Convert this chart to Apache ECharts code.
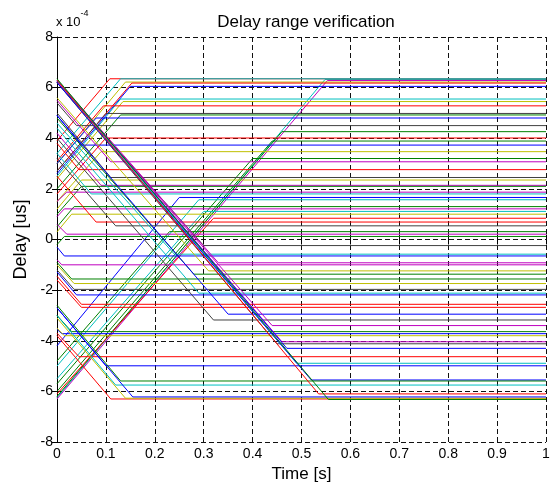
<!DOCTYPE html>
<html>
<head>
<meta charset="utf-8">
<script src="https://cdn.jsdelivr.net/npm/echarts@6/dist/echarts.min.js"></script>
<style>
html,body{margin:0;padding:0;background:#fff;}
#chart{width:554px;height:489px;}
</style>
</head>
<body>
<div id="chart"></div>
<script>
// Delay values in units of 1e-4 us
const startDelay = [
  -6.25, -6.30, 3.0, 3.9, 3.4, 2.7, 2.6, 2.5, 2.4, 3.1,
  2.7, 2.0, 3.0, 5.4, -6.2, 1.8, -6.0, 4.9, 1.5, -5.7,
  5.5, 3.8, 5.0, 1.2, 4.2, 1.0, 1.5, 3.4, -4.2, -5.0,
  0.5, 0.9, -5.5, 0.3, -6.1, 2.5, 3.2, -4.8, 0.6, -0.2,
  6.2, 4.6, -0.3, 6.3, -0.8, 5.6, 4.8, -0.9, -1.0, -1.2,
  4.4, -1.28, -1.45, -1.6, 4.9, 4.0, 6.25, -3.0, -3.55, -3.5,
  6.3, 6.2, 6.3, -3.7, 6.3, -2.7, 6.2, -2.6, -3.0, 6.3,
  -3.8, -3.1, -2.7, 6.35
];
const finalDelay = [
  6.32, 6.28, 6.22, 6.35, 6.35, 6.18, 6.05, 5.55, 5.45, 5.28,
  4.98, 4.92, 4.80, 4.50, 4.26, 4.01, 3.89, 3.73, 3.47, 3.20,
  3.07, 2.76, 2.45, 2.35, 2.14, 2.10, 1.87, 1.80, 1.66, 1.57,
  1.30, 1.21, 1.11, 1.00, 0.84, 0.69, 0.54, 0.31, 0.21, 0.12,
  -0.24, -0.58, -0.65, -0.92, -1.00, -1.24, -1.37, -1.56, -1.74, -1.97,
  -2.12, -2.19, -2.56, -2.68, -2.95, -3.18, -3.40, -3.64, -3.72, -3.80,
  -4.04, -4.12, -4.30, -4.63, -4.89, -4.99, -5.55, -5.59, -5.75, -6.10,
  -6.30, -6.27, -6.22, -6.32
];
const settleTime = [
  0.548, 0.553, 0.14, 0.108, 0.13, 0.153, 0.15, 0.13, 0.135, 0.095,
  0.10, 0.13, 0.08, 0.04, 0.46, 0.10, 0.44, 0.05, 0.09, 0.40,
  0.11, 0.045, 0.11, 0.05, 0.09, 0.05, 0.02, 0.07, 0.25, 0.29,
  0.035, 0.015, 0.30, 0.03, 0.32, 0.08, 0.12, 0.23, 0.02, 0.015,
  0.30, 0.24, 0.015, 0.33, 0.01, 0.31, 0.28, 0.03, 0.035, 0.035,
  0.29, 0.04, 0.05, 0.05, 0.35, 0.32, 0.44, 0.03, 0.01, 0.015,
  0.46, 0.45, 0.47, 0.045, 0.49, 0.10, 0.52, 0.13, 0.12, 0.535,
  0.11, 0.14, 0.155, 0.555
];
const colourCode = [
  'c','m','y','r','c','r','b','c','y','r',
  'k','g','b','k','g','r','g','b','y','g',
  'm','r','k','y','m','g','m','c','b','c',
  'g','m','c','y','r','r','k','g','m','g',
  'k','c','b','m','m','y','g','g','y','k',
  'c','b','r','r','b','k','m','g','b','y',
  'm','k','b','r','c','b','b','g','c','r',
  'r','y','b','g'
];
const xTicks = [0, 0.1, 0.2, 0.3, 0.4, 0.5, 0.6, 0.7, 0.8, 0.9, 1];
const yTicks = [-8, -6, -4, -2, 0, 2, 4, 6, 8];

const palette = {b:'#0000FF', g:'#008000', r:'#FF0000', c:'#00BFBF', m:'#BF00BF', y:'#BFBF00', k:'#404040'};
const font = 'Liberation Sans, Arial, Helvetica, sans-serif';

const series = startDelay.map((s, i) => ({
  type: 'line',
  xAxisIndex: 0, yAxisIndex: 0,
  showSymbol: false,
  silent: true,
  animation: false,
  lineStyle: {width: 1, color: palette[colourCode[i]]},
  data: [[0, s], [settleTime[i], finalDelay[i]], [1, finalDelay[i]]]
}));

const chart = echarts.init(document.getElementById('chart'), null, {renderer: 'canvas'});
const gridLine = {show: true, lineStyle: {color: '#111', width: 1, type: [5, 3]}};
chart.setOption({
  animation: false,
  backgroundColor: '#fff',
  title: {
    text: 'Delay range verification', left: 301, top: 9, textAlign: 'center',
    textStyle: {fontFamily: font, fontSize: 17, fontWeight: 'normal', color: '#000'}
  },
  grid: {left: 57, right: 8, top: 37, bottom: 47, containLabel: false},
  xAxis: [{
    type: 'value', min: xTicks[0], max: xTicks[xTicks.length - 1], interval: 0.1,
    name: 'Time [s]', nameLocation: 'middle', nameGap: 21,
    nameTextStyle: {fontFamily: font, fontSize: 17, color: '#000'},
    axisLine: {show: false},
    axisTick: {show: true, inside: true, length: 5, lineStyle: {color: '#000'}},
    axisLabel: {fontFamily: font, fontSize: 14, color: '#000', margin: 5,
      formatter: v => (Math.abs(v) < 1e-9 ? '0' : Math.abs(v - 1) < 1e-9 ? '1' : v.toFixed(1))},
    splitLine: gridLine
  }, {
    type: 'value', position: 'top', min: 0, max: 1, interval: 0.1,
    axisLine: {show: false}, axisLabel: {show: false}, splitLine: {show: false},
    axisTick: {show: true, inside: true, length: 5, lineStyle: {color: '#000'}}
  }],
  yAxis: [{
    type: 'value', min: yTicks[0], max: yTicks[yTicks.length - 1], interval: 2,
    name: 'Delay [us]', nameLocation: 'middle', nameGap: 25, nameRotate: 90,
    nameTextStyle: {fontFamily: font, fontSize: 18, color: '#000'},
    axisLine: {show: true, lineStyle: {color: '#000', width: 1}},
    axisTick: {show: true, inside: true, length: 5, lineStyle: {color: '#000'}},
    axisLabel: {fontFamily: font, fontSize: 14, color: '#000', margin: 4},
    splitLine: gridLine
  }, {
    type: 'value', position: 'right', min: -8, max: 8, interval: 2,
    axisLine: {show: false}, axisLabel: {show: false}, splitLine: {show: false},
    axisTick: {show: true, inside: true, length: 5, lineStyle: {color: '#000'}}
  }],
  graphic: [{
    type: 'text', left: 56, top: 9,
    style: {
      text: '{a|x 10}{b|-4}',
      rich: {
        a: {fontFamily: font, fontSize: 13, fill: '#000', padding: [7, 0, 0, 0]},
        b: {fontFamily: font, fontSize: 9, fill: '#000', verticalAlign: 'top', padding: [0, 0, 8, 0]}
      }
    }
  }],
  series: series
});
</script>
</body>
</html>
